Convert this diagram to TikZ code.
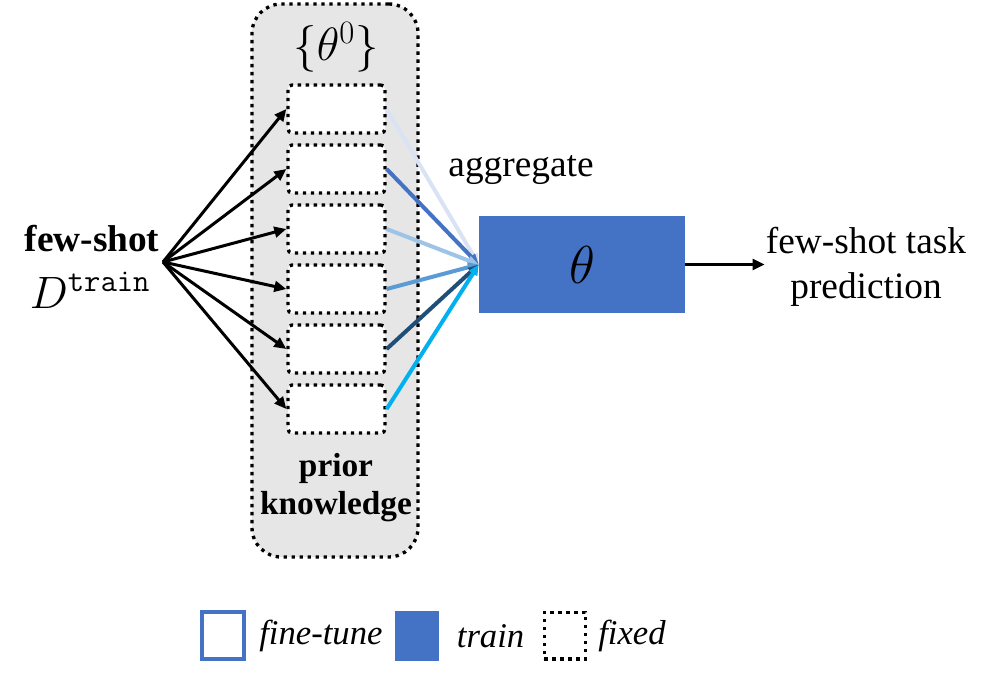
\RequirePackage{fix-cm}
\documentclass[tikz,border=0pt]{standalone}
\usepackage{amsmath}
\usepackage[no-math]{fontspec}
\setmainfont{Liberation Serif}
\usetikzlibrary{arrows.meta,positioning}

\definecolor{pgray}{HTML}{E7E6E6}
\definecolor{ptrain}{HTML}{4472C4}
\definecolor{agga}{HTML}{DAE3F3}
\definecolor{aggb}{HTML}{4472C4}
\definecolor{aggc}{HTML}{9DC3E6}
\definecolor{aggd}{HTML}{5B9BD5}
\definecolor{agge}{HTML}{1F4E79}
\definecolor{aggf}{HTML}{00B0F0}

\begin{document}
\begin{tikzpicture}[x=0.75pt,y=0.75pt,yscale=-1,xscale=1,
  dotbox/.style={draw=black,line width=2.5pt,dash pattern={on 2.5pt off 3.5pt}},
  kbox/.style={dotbox,fill=white,rounded corners=3pt,inner sep=0pt,minimum width=72.75pt,minimum height=36pt},
  txt/.style={inner sep=0.75pt,font=\fontsize{28}{34}\selectfont},
  legtxt/.style={inner sep=0pt,font=\fontsize{26}{30}\selectfont\itshape},
  feed/.style={line width=2.25pt,-{Triangle[length=9pt,width=8pt]}},
  agg/.style={line width=3pt,-{Triangle[length=8pt,width=7pt]}}]
\useasboundingbox (0,0) rectangle (991,685);

% Prior knowledge panel
\node (prior) [dotbox,fill=pgray,rounded corners=22pt,minimum width=124.5pt,minimum height=414.75pt] at (335,280.5) {};
% Text Node
\node (theta0) [inner sep=0pt,font=\fontsize{35}{40}\selectfont] at (336,47) {$\{\theta^0\}$};
% Text Node
\node (priortxt) [txt,align=center,font=\fontsize{25}{28.5}\selectfont\bfseries] at (336,488) {prior\\knowledge};

% Knowledge boxes
\foreach \i in {1,...,6} {
  \node (k\i) [kbox] at (336.5,49+60*\i) {};
}

% Text Node
\node (fewshot) [txt,anchor=base,font=\fontsize{28}{34}\selectfont\bfseries] at (92,251) {few-shot};
% Text Node
\node (dtrain) [inner sep=0pt,anchor=base,font=\fontsize{34}{40}\selectfont] at (90,308) {$D^{\mathtt{train}}$};
\coordinate (src) at (163,262);

% Aggregated model
\node (theta) [fill=ptrain,inner sep=0pt,minimum width=154.5pt,minimum height=72.75pt,font=\fontsize{40}{44}\selectfont] at (582,264.5) {$\theta$};
% Text Node
\node (aggtxt) [txt] at (521,170) {aggregate};
% Text Node
\node (pred) [txt,align=center] at (866,267) {few-shot task\\prediction};

% Connection
\foreach \i in {1,...,6} {
  \draw [feed] (src) -- (k\i.west);
}
% Connection
\foreach \i/\c in {1/agga,2/aggb,3/aggc,4/aggd,5/agge,6/aggf} {
  \draw [agg,draw=\c,fill=\c] (k\i.east) -- (theta.west);
}
% Connection
\draw [feed] (theta.east) -- (theta.east -| pred.west);

% Legend
\node (legft) [draw=ptrain,line width=3pt,inner sep=0pt,minimum width=31pt,minimum height=35pt] at (223,635.5) {};
\node (legfttxt) [legtxt,right=10pt of legft] {fine-tune};
\node (legtr) [fill=ptrain,inner sep=0pt,minimum width=33pt,minimum height=37.5pt] at (417,636) {};
\node (legtrtxt) [legtxt,right=13pt of legtr] {train};
\node (legfx) [dotbox,inner sep=0pt,minimum width=31pt,minimum height=35pt] at (565,635.5) {};
\node (legfxtxt) [legtxt,right=8pt of legfx] {fixed};

\end{tikzpicture}
\end{document}
